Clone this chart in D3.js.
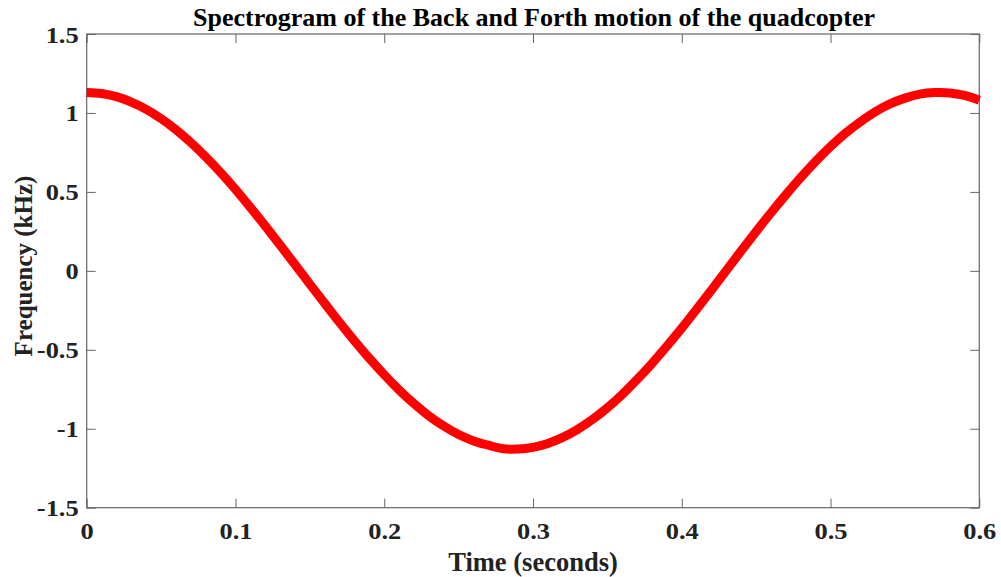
<!DOCTYPE html>
<html><head><meta charset="utf-8">
<script src="https://cdn.jsdelivr.net/npm/d3@7"></script>
<style>body{margin:0;background:#fff}svg{display:block}text{font-family:"Liberation Serif","Times New Roman",serif;font-weight:bold}</style>
</head><body>
<svg id="c" width="1001" height="577"></svg>
<script>
const times = [0,0.01,0.02,0.03,0.04,0.05,0.06,0.07,0.08,0.09,0.10,0.11,0.12,0.13,0.14,0.15,0.16,0.17,0.18,0.19,0.20,0.21,0.22,0.23,0.24,0.25,0.26,0.27,0.28,0.29,0.30,0.31,0.32,0.33,0.34,0.35,0.36,0.37,0.38,0.39,0.40,0.41,0.42,0.43,0.44,0.45,0.46,0.47,0.48,0.49,0.50,0.51,0.52,0.53,0.54,0.55,0.56,0.57,0.58,0.59,0.60];
const freqs = [1.13,1.123,1.103,1.069,1.023,0.964,0.894,0.813,0.722,0.623,0.516,0.402,0.285,0.163,0.040,-0.084,-0.206,-0.327,-0.443,-0.554,-0.658,-0.754,-0.841,-0.918,-0.983,-1.037,-1.077,-1.104,-1.127,-1.129,-1.118,-1.093,-1.055,-1.004,-0.941,-0.867,-0.783,-0.688,-0.586,-0.477,-0.363,-0.243,-0.121,0.003,0.127,0.249,0.368,0.482,0.591,0.693,0.787,0.871,0.944,1.007,1.057,1.094,1.119,1.129,1.127,1.111,1.081];
const xTicks = [0,0.1,0.2,0.3,0.4,0.5,0.6];
const yTicks = [-1.5,-1,-0.5,0,0.5,1,1.5];
const title = "Spectrogram of the Back and Forth motion of the quadcopter";
const xLabel = "Time (seconds)";
const yLabel = "Frequency (kHz)";

const svg = d3.select("#c");
const L=86.7, R=979.3, T=34, B=507.7;
const x = d3.scaleLinear().domain([0,0.6]).range([L,R]);
const y = d3.scaleLinear().domain([-1.5,1.5]).range([B,T]);
const axisColor = "#666";
const fmt = d => String(d);
const tickFont = 23, stretch = 1.15;

svg.append("rect").attr("x",L).attr("y",T).attr("width",R-L).attr("height",B-T)
  .attr("fill","none").attr("stroke",axisColor).attr("stroke-width",1.2);

const styleAxis = g => { g.select(".domain").remove(); g.selectAll(".tick line").attr("stroke",axisColor).attr("stroke-width",1); };

const gx = svg.append("g").attr("transform",`translate(0,${B})`)
  .call(d3.axisBottom(x).tickValues(xTicks).tickFormat(fmt).tickSizeInner(-9).tickSizeOuter(0));
styleAxis(gx);
gx.selectAll(".tick text").attr("dy",null).attr("y",null)
  .attr("transform",`translate(0,31) scale(${stretch},1)`)
  .attr("font-size",tickFont).attr("fill","#222");
const gxt = svg.append("g").attr("transform",`translate(0,${T})`)
  .call(d3.axisTop(x).tickValues(xTicks).tickFormat("").tickSizeInner(-9));
styleAxis(gxt);
const gy = svg.append("g").attr("transform",`translate(${L},0)`)
  .call(d3.axisLeft(y).tickValues(yTicks).tickFormat(fmt).tickSizeInner(-9));
styleAxis(gy);
gy.selectAll(".tick text").attr("x",null).attr("dy",null)
  .attr("transform",`translate(-8,8) scale(${stretch},1)`)
  .attr("font-size",tickFont).attr("fill","#222");
const gyr = svg.append("g").attr("transform",`translate(${R},0)`)
  .call(d3.axisRight(y).tickValues(yTicks).tickFormat("").tickSizeInner(-9));
styleAxis(gyr);

const data = times.map((t,i)=>[t,freqs[i]]);
svg.append("path").datum(data)
  .attr("d", d3.line().x(d=>x(d[0])).y(d=>y(d[1])).curve(d3.curveCatmullRom))
  .attr("fill","none").attr("stroke","#ff0000").attr("stroke-width",9).attr("stroke-linejoin","round");

svg.append("text").attr("x",534).attr("y",26).attr("text-anchor","middle")
  .attr("font-size",26).attr("fill","#000").text(title);
svg.append("text").attr("x",533).attr("y",571).attr("text-anchor","middle")
  .attr("font-size",26.5).attr("fill","#222").text(xLabel);
svg.append("text").attr("transform",`translate(32,266) rotate(-90)`).attr("text-anchor","middle")
  .attr("font-size",25).attr("fill","#222").text(yLabel);
</script>
</body></html>
